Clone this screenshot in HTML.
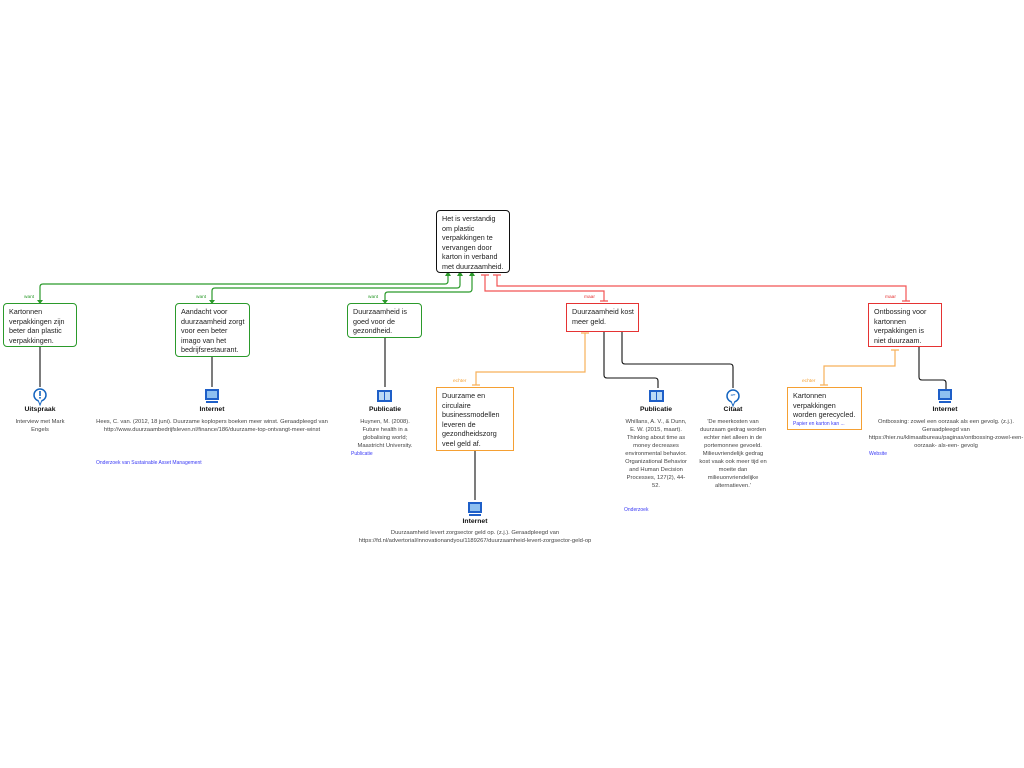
<!DOCTYPE html>
<html><head><meta charset="utf-8">
<style>
html,body{margin:0;padding:0;background:#fff;}
body{width:1024px;height:768px;position:relative;overflow:hidden;font-family:"Liberation Sans",sans-serif;}
.n{position:absolute;box-sizing:border-box;border-radius:4px;background:#fff;font-size:7.2px;line-height:9.6px;color:#222;padding:3px 6px 0 5px;}
.g{border:1.3px solid #2b9a2b;}
.r{border:1.4px solid #e53333;border-radius:0;}
.o{border:1.5px solid #f5a033 !important;border-radius:0;}
.k{border:1.3px solid #111;}
.t{position:absolute;text-align:center;font-size:5.8px;line-height:8px;color:#444;}
.h{position:absolute;text-align:center;font-size:6.8px;font-weight:bold;color:#111;}
.l{position:absolute;font-size:5px;color:#3a3af5;white-space:nowrap;}
.lb{position:absolute;font-size:4.8px;}
svg{position:absolute;left:0;top:0;}
</style></head><body>
<svg width="1024" height="768" fill="none">
<g stroke="#2b9a2b" stroke-width="1.2">
<path d="M448 272 V281 Q448 284 445 284 H43 Q40 284 40 287 V303"/>
<path d="M460 272 V285 Q460 288 457 288 H215 Q212 288 212 291 V303"/>
<path d="M472 272 V289 Q472 292 469 292 H388 Q385 292 385 295 V303"/>
</g>
<g fill="#2b9a2b"><path d="M445 276 L448 271 L451 276Z"/><path d="M457 276 L460 271 L463 276Z"/><path d="M469 276 L472 271 L475 276Z"/>
<path d="M37 300 L40 304 L43 300Z"/><path d="M209 300 L212 304 L215 300Z"/><path d="M382 300 L385 304 L388 300Z"/></g>
<g stroke="#f25555" stroke-width="1.2">
<path d="M485 275 V291 H604 V301"/>
<path d="M497 275 V286 H906 V301"/>
<path d="M481 275 H489 M493 275 H501 M600 301 H608 M902 301 H910"/>
</g>
<g stroke="#f7b05a" stroke-width="1.2">
<path d="M585 333 V372 H476 V385"/>
<path d="M895 350 V366 H824 V385"/>
<path d="M581 333 H589 M472 385 H480 M891 350 H899 M820 385 H828"/>
</g>
<g stroke="#111" stroke-width="1.1">
<path d="M40 346 V387"/><path d="M212 356 V387"/><path d="M385 337 V387"/>
<path d="M475 450 V500"/>
<path d="M604 331 V375 Q604 378 607 378 H655 Q658 378 658 381 V388"/>
<path d="M622 331 V361 Q622 364 625 364 H730 Q733 364 733 367 V388"/>
<path d="M919 346 V377 Q919 380 922 380 H943 Q946 380 946 383 V390"/>
</g>
<g>
<circle cx="40" cy="395" r="6" stroke="#1565c0" stroke-width="1.5" fill="#fff"/>
<path d="M38 400 L40 405 L42 400" fill="#fff" stroke="#1565c0"/>
<rect x="39.2" y="391" width="1.6" height="5" fill="#1565c0"/><rect x="39.2" y="397" width="1.6" height="1.6" fill="#1565c0"/>
<circle cx="733" cy="396" r="6" stroke="#1565c0" stroke-width="1.5" fill="#fff"/>
<path d="M731 401 L733 406 L735 401" fill="#fff" stroke="#1565c0"/>
<text x="733" y="398" font-size="5" font-family="Liberation Sans" fill="#1565c0" text-anchor="middle" font-weight="bold">&#8220;&#8221;</text>
</g>
<g fill="#1e5fc8">
<rect x="205" y="389" width="14" height="11"/><rect x="207" y="391" width="10" height="7" fill="#8ec0f0"/><rect x="206" y="401" width="12" height="2"/>
<rect x="468" y="502" width="14" height="11"/><rect x="470" y="504" width="10" height="7" fill="#8ec0f0"/><rect x="469" y="514" width="12" height="2"/>
<rect x="938" y="389" width="14" height="11"/><rect x="940" y="391" width="10" height="7" fill="#8ec0f0"/><rect x="939" y="401" width="12" height="2"/>
<rect x="377" y="390" width="15" height="12"/><rect x="379" y="392" width="5" height="8" fill="#bcdaf5"/><rect x="385" y="392" width="5" height="8" fill="#bcdaf5"/>
<rect x="649" y="390" width="15" height="12"/><rect x="651" y="392" width="5" height="8" fill="#bcdaf5"/><rect x="657" y="392" width="5" height="8" fill="#bcdaf5"/>
</g>
</svg>

<div class="n k" style="left:436px;top:210px;width:74px;height:63px;padding-right:2px">Het is verstandig om plastic verpakkingen te vervangen door karton in verband met duurzaamheid.</div>

<div class="lb" style="left:24px;top:295px;color:#2b9a2b">want</div>
<div class="lb" style="left:196px;top:295px;color:#2b9a2b">want</div>
<div class="lb" style="left:368px;top:295px;color:#2b9a2b">want</div>
<div class="lb" style="left:584px;top:295px;color:#e53333">maar</div>
<div class="lb" style="left:885px;top:295px;color:#e53333">maar</div>
<div class="lb" style="left:453px;top:379px;color:#f5a033">echter</div>
<div class="lb" style="left:802px;top:379px;color:#f5a033">echter</div>

<div class="n g" style="left:3px;top:303px;width:74px;height:44px;">Kartonnen verpakkingen zijn beter dan plastic verpakkingen.</div>
<div class="n g" style="left:175px;top:303px;width:75px;height:54px;padding-right:3px">Aandacht voor duurzaamheid zorgt voor een beter imago van het bedrijfsrestaurant.</div>
<div class="n g" style="left:347px;top:303px;width:75px;height:35px;">Duurzaamheid is goed voor de gezondheid.</div>
<div class="n r" style="left:566px;top:303px;width:73px;height:29px;padding-right:2px">Duurzaamheid kost meer geld.</div>
<div class="n r" style="left:868px;top:303px;width:74px;height:44px;">Ontbossing voor kartonnen verpakkingen is niet duurzaam.</div>
<div class="n o" style="left:436px;top:387px;width:78px;height:64px;">Duurzame en circulaire businessmodellen leveren de gezondheidszorg veel geld af.</div>
<div class="n o" style="left:787px;top:387px;width:75px;height:43px;padding-right:2px;border-color:#f5a033">Kartonnen verpakkingen worden gerecycled.<div style="font-size:5px;color:#3a3af5;line-height:7px;margin-top:1px;white-space:nowrap">Papier en karton kan ...</div></div>

<div class="h" style="left:0px;top:406px;width:80px;">Uitspraak</div>
<div class="t" style="left:10px;top:418px;width:60px;">Interview met Mark Engels</div>

<div class="h" style="left:172px;top:406px;width:80px;">Internet</div>
<div class="t" style="left:95px;top:418px;width:234px;">Hees, C. van. (2012, 18 juni). Duurzame koplopers boeken meer winst. Geraadpleegd van http://www.duurzaambedrijfsleven.nl/finance/186/duurzame-top-ontvangt-meer-winst</div>
<div class="l" style="left:96px;top:460px;">Onderzoek van Sustainable Asset Management</div>

<div class="h" style="left:345px;top:406px;width:80px;">Publicatie</div>
<div class="t" style="left:352px;top:418px;width:66px;">Huynen, M. (2008). Future health in a globalising world; Maastricht University.</div>
<div class="l" style="left:351px;top:451px;">Publicatie</div>

<div class="h" style="left:435px;top:518px;width:80px;">Internet</div>
<div class="t" style="left:335px;top:529px;width:280px;">Duurzaamheid levert zorgsector geld op. (z.j.). Geraadpleegd van https://fd.nl/advertorial/innovationandyou/1189267/duurzaamheid-levert-zorgsector-geld-op</div>

<div class="h" style="left:616px;top:406px;width:80px;">Publicatie</div>
<div class="t" style="left:623px;top:418px;width:66px;">Whillans, A. V., &amp; Dunn, E. W. (2015, maart). Thinking about time as money decreases environmental behavior. Organizational Behavior and Human Decision Processes, 127(2), 44-52.</div>
<div class="l" style="left:624px;top:507px;">Onderzoek</div>

<div class="h" style="left:693px;top:406px;width:80px;">Citaat</div>
<div class="t" style="left:698px;top:418px;width:70px;">'De meerkosten van duurzaam gedrag worden echter niet alleen in de portemonnee gevoeld. Milieuvriendelijk gedrag kost vaak ook meer tijd en moeite dan milieuonvriendelijke alternatieven.'</div>

<div class="h" style="left:905px;top:406px;width:80px;">Internet</div>
<div class="t" style="left:868px;top:418px;width:156px;">Ontbossing: zowel een oorzaak als een gevolg. (z.j.). Geraadpleegd van https://hier.nu/klimaatbureau/paginas/ontbossing-zowel-een-oorzaak- als-een- gevolg</div>
<div class="l" style="left:869px;top:451px;">Website</div>
</body></html>
